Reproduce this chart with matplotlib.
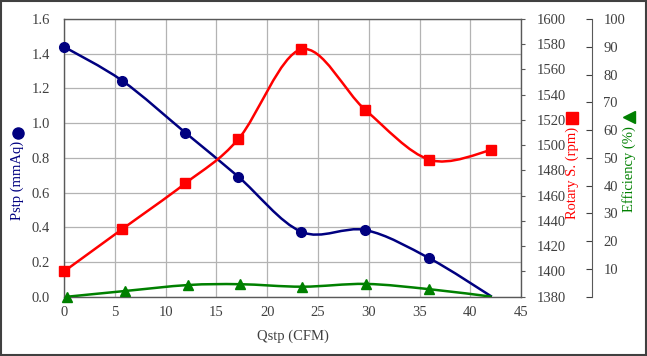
import numpy as np
import matplotlib
matplotlib.use("Agg")
import matplotlib.pyplot as plt
from matplotlib.path import Path
from matplotlib.patches import PathPatch, Rectangle
from matplotlib.lines import Line2D

# --- dados ---
qstp = [0.0, 5.74, 11.94, 17.16, 23.36, 29.66, 35.96, 42.1]
pstp = [1.44, 1.244, 0.945, 0.691, 0.374, 0.384, 0.221, 0.0]
rotary = [1400, 1433.6, 1469.8, 1504.9, 1576, 1527.9, 1488.5, 1496]
qstp_rot = [0.0, 5.74, 11.94, 17.16, 23.36, 29.66, 35.96, 42.0]
qstp_eff = [0.33, 6.0, 12.2, 17.3, 23.45, 29.7, 35.96, 42.1]
efficiency = [0.0, 2.05, 4.2, 4.5, 3.6, 4.6, 2.7, 0.0]

AZUL = '#000080'
VERMELHO = '#ff0000'
VERDE = '#008000'
CINZA = '#404040'

plt.rcParams['font.family'] = ['Liberation Serif', 'DejaVu Serif']


def curva_suave(x, y):
    # curva tipo "linha suavizada" do Excel (Bezier / Catmull-Rom)
    p = np.column_stack([x, y]).astype(float)
    n = len(p)
    verts = [p[0]]
    codes = [Path.MOVETO]
    for i in range(n - 1):
        p0 = p[i - 1] if i > 0 else p[i]
        p3 = p[i + 2] if i + 2 < n else p[i + 1]
        c1 = p[i] + (p[i + 1] - p0) / 6.0
        c2 = p[i + 1] - (p3 - p[i]) / 6.0
        verts += [c1, c2, p[i + 1]]
        codes += [Path.CURVE4] * 3
    return Path(verts, codes)


fig = plt.figure(figsize=(6.47, 3.56), dpi=100)
ax = fig.add_axes([64 / 647, 1 - 296.7 / 356, (521.3 - 64) / 647, (296.7 - 19) / 356])

# eixo principal (Pstp)
ax.set_xlim(0, 45)
ax.set_ylim(0, 1.6)
ax.set_xticks(np.arange(0, 46, 5))
ax.set_yticks(np.arange(0, 1.61, 0.2))
ax.set_yticklabels([f'{v:.1f}' for v in np.arange(0, 1.61, 0.2)])
ax.grid(True, color='#b3b3b3', lw=0.9)
ax.set_axisbelow(True)
ax.tick_params(axis='both', length=0, labelsize=10.5, colors=CINZA)
ax.tick_params(axis='y', pad=10)
ax.tick_params(axis='x', pad=7)
for s in ax.spines.values():
    s.set_color('#595959')
    s.set_linewidth(1.0)
ax.set_xlabel('Qstp (CFM)', fontsize=10.5, color=CINZA, labelpad=7)

ax.add_patch(PathPatch(curva_suave(qstp, pstp), fc='none', ec=AZUL, lw=1.8, zorder=3))
ax.plot(qstp[:-1], pstp[:-1], 'o', color=AZUL, ms=7, zorder=4, clip_on=False)

# eixo secundário (rotação)
ax2 = ax.twinx()
ax2.set_ylim(1380, 1600)
ax2.set_yticks(np.arange(1380, 1601, 20))
ax2.tick_params(axis='y', direction='out', length=3, pad=8, labelsize=10.5,
                colors=CINZA, color='#595959')
for s in ax2.spines.values():
    s.set_visible(False)
ax2.add_patch(PathPatch(curva_suave(qstp_rot, rotary), fc='none', ec=VERMELHO, lw=1.8, zorder=3))
ax2.plot(qstp_rot, rotary, 's', color=VERMELHO, ms=7, zorder=4, clip_on=False)

# terceiro eixo (eficiência)
ax3 = ax.twinx()
ax3.set_ylim(0, 100)
ax3.set_yticks(np.arange(0, 101, 10))
ax3.set_yticklabels([''] + [str(v) for v in range(10, 101, 10)])
for k, s in ax3.spines.items():
    s.set_visible(k == 'right')
ax3.spines['right'].set_position(('axes', (592.3 - 64) / (521.3 - 64)))
ax3.spines['right'].set_color('#595959')
ax3.tick_params(axis='y', direction='in', length=4, pad=8, labelsize=10.5,
                colors=CINZA, color='#404040')
ax3.add_patch(PathPatch(curva_suave(qstp_eff, efficiency), fc='none', ec=VERDE, lw=1.8, zorder=3))
ax3.plot(qstp_eff[:-1], efficiency[:-1], '^', color=VERDE, ms=7, zorder=4, clip_on=False)

# rótulos dos eixos com símbolos
fig.text(17.5 / 647, 1 - 180 / 356, 'Pstp (mmAq)', rotation=90, ha='center', va='center',
         fontsize=10.5, color=AZUL)
fig.add_artist(Line2D([17.5 / 647], [1 - 133 / 356], marker='o', color=AZUL, ms=8,
                      transform=fig.transFigure))
fig.text(572.7 / 647, 1 - 172.5 / 356, 'Rotary S. (rpm)', rotation=90, ha='center', va='center',
         fontsize=10.5, color=VERMELHO)
fig.add_artist(Line2D([571.7 / 647], [1 - 118 / 356], marker='s', color=VERMELHO, ms=8,
                      transform=fig.transFigure))
fig.text(629 / 647, 1 - 169 / 356, 'Efficiency (%)', rotation=90, ha='center', va='center',
         fontsize=10.5, color=VERDE)
fig.add_artist(Line2D([629 / 647], [1 - 117 / 356], marker='<', color=VERDE, ms=8,
                      transform=fig.transFigure))

# moldura
fig.add_artist(Rectangle((0.001, 0.002), 0.997, 0.995, transform=fig.transFigure,
                         fill=False, ec='#404040', lw=1.5))

fig.savefig('out.png', dpi=100)
